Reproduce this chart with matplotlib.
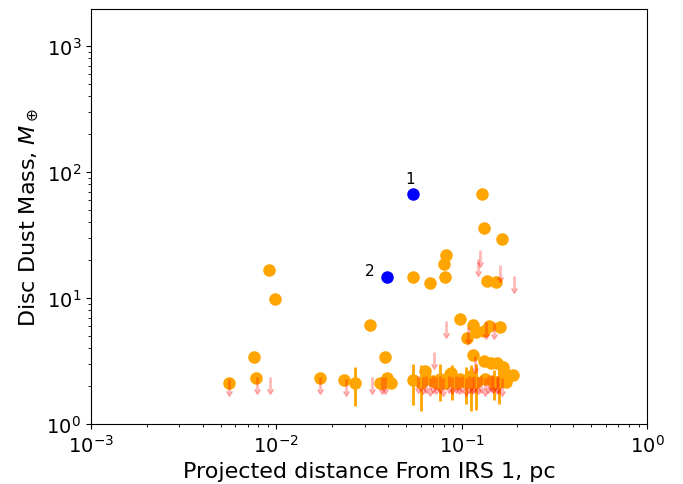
import numpy as np
import matplotlib
matplotlib.use('Agg')
import matplotlib.pyplot as plt
from matplotlib.markers import CARETDOWNBASE

# detected discs (orange), yerr = 0 where no error bar is drawn
disc_dist = [0.00914, 0.00985, 0.00759, 0.00776, 0.00553, 0.01717, 0.02332, 0.0266,
             0.0320, 0.0386, 0.0396, 0.0361, 0.0375, 0.0418,
             0.1286, 0.1326, 0.1649, 0.0823, 0.0800, 0.0549, 0.0675, 0.0813, 0.1364, 0.1531,
             0.0979, 0.1156, 0.1068, 0.1200, 0.1318, 0.1398, 0.1603,
             0.1147, 0.1326, 0.1433, 0.1549, 0.1670, 0.1884, 0.0879, 0.0632,
             0.0549, 0.0601, 0.0644, 0.0698, 0.0767, 0.0861, 0.0889, 0.0975, 0.1060,
             0.1104, 0.1200, 0.1330, 0.1474, 0.1492, 0.1592, 0.1636, 0.1742, 0.1700,
             0.1128, 0.0940, 0.0817, 0.0737]
disc_mass = [16.7, 9.87, 3.42, 2.32, 2.11, 2.32, 2.25, 2.11,
             6.07, 3.42, 2.32, 2.11, 2.11, 2.11,
             67.3, 35.7, 29.2, 21.9, 18.7, 14.7, 13.2, 14.7, 13.7, 13.5,
             6.78, 6.11, 4.81, 5.40, 5.50, 6.03, 5.89,
             3.55, 3.18, 3.05, 3.05, 2.82, 2.44, 2.55, 2.63,
             2.22, 2.11, 2.27, 2.21, 2.27, 2.49, 2.25, 2.27, 2.14,
             2.42, 2.15, 2.27, 2.21, 2.11, 2.15, 2.21, 2.14, 2.57,
             2.11, 2.11, 2.11, 2.11]
disc_err = [0, 0, 0, 0, 0, 0, 0, 0.71,
            0, 0, 0, 0, 0, 0,
            0, 0, 0, 0, 0, 0, 0, 0, 0, 0,
            0, 0, 0, 0, 0, 0, 0,
            0, 0, 0, 0, 0, 0, 0, 0,
            0.8, 0.85, 0, 0, 0.75, 0, 0.7, 0, 0.7,
            0, 0.85, 0, 0, 0.57, 0.7, 0, 0, 0,
            0.85, 0, 0, 0]

# upper limits (pink arrows)
ul_dist = [0.00556, 0.00782, 0.0093, 0.0173, 0.0237, 0.0327, 0.0374, 0.0385,
           0.125, 0.1230, 0.1617, 0.1906, 0.0827, 0.1081, 0.1357, 0.1502, 0.0706, 0.1176,
           0.0620, 0.0672, 0.0730, 0.0797, 0.0890, 0.0968, 0.1050, 0.1130,
           0.1220, 0.1330, 0.1440, 0.1550, 0.1660,
           0.0580, 0.0640, 0.0700, 0.0760, 0.0850, 0.0930, 0.1010, 0.1090,
           0.1170, 0.1270, 0.1380, 0.1480, 0.1580]
ul_mass = [2.27, 2.36, 2.36, 2.36, 2.27, 2.36, 2.36, 2.36,
           24.2, 20.4, 18.3, 15.0, 6.61, 5.89, 6.45, 6.45, 3.75, 3.46,
           2.36, 2.30, 2.36, 2.30, 2.36, 2.36, 2.30, 2.36,
           2.36, 2.30, 2.45, 2.36, 2.30,
           2.40, 2.42, 2.40, 2.42, 2.40, 2.42, 2.40, 2.42,
           2.40, 2.42, 2.40, 2.42, 2.40]

# the two labelled sources (blue)
irs_dist = [0.0546, 0.0394]
irs_mass = [67.3, 14.7]
irs_names = ['1', '2']

fig = plt.figure(figsize=(6.83, 4.85), dpi=100)
ax = fig.add_axes([0.1332, 0.1237, 0.8141, 0.8557])

ax.errorbar(disc_dist, disc_mass, yerr=disc_err, fmt='o', color='orange',
            ms=8, elinewidth=2, capsize=0, zorder=2)

# arrows: stem from the limit down by 20 %, caret head at the bottom
ul_mass = np.array(ul_mass)
ul_low = 0.8 * ul_mass
ax.vlines(ul_dist, ul_low, ul_mass, color='red', alpha=0.28, lw=2, zorder=3)
ax.plot(ul_dist, ul_low, ls='none', marker=CARETDOWNBASE, ms=5,
        color='red', alpha=0.28, zorder=3)

ax.plot(irs_dist, irs_mass, 'o', color='blue', ms=8, zorder=4)
ax.annotate(irs_names[0], (irs_dist[0], irs_mass[0]), xytext=(-2, 11),
            textcoords='offset points', ha='center', va='center', fontsize=11)
ax.annotate(irs_names[1], (irs_dist[1], irs_mass[1]), xytext=(-12, 5),
            textcoords='offset points', ha='center', va='center', fontsize=11)

ax.set_xscale('log')
ax.set_yscale('log')
ax.set_xlim(1e-3, 1)
ax.set_ylim(1, 1970)
ax.tick_params(labelsize=14)
ax.set_xlabel('Projected distance From IRS 1, pc', fontsize=16)
ax.set_ylabel(r'Disc Dust Mass, $M_\oplus$', fontsize=16)

fig.savefig('out.png', dpi=100)
